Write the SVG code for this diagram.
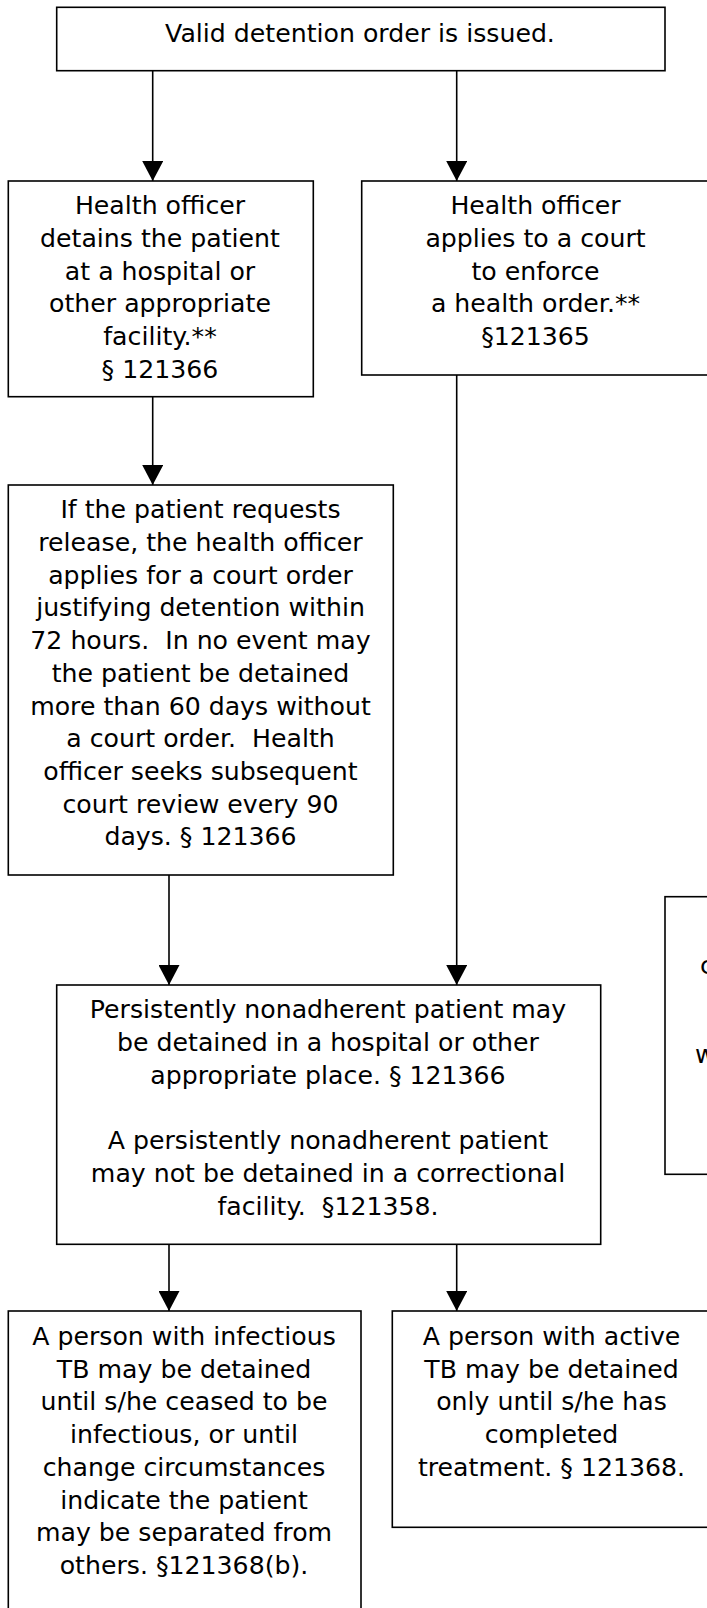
<svg xmlns="http://www.w3.org/2000/svg" width="707" height="1608" viewBox="0 0 707 1608">
<style>
.box{fill:#fff;stroke:#000;stroke-width:1.6}
.t{font-family:"DejaVu Sans",sans-serif;font-size:25.2px;fill:#000;text-anchor:middle}
.ts{font-family:"DejaVu Sans",sans-serif;font-size:25.2px;fill:#000;text-anchor:start}
.c{stroke:#000;stroke-width:1.6;fill:none;marker-end:url(#ah)}
</style>
<defs>
<marker id="ah" markerUnits="userSpaceOnUse" viewBox="0 0 20 21" refX="20" refY="10.5" markerWidth="20" markerHeight="21" orient="auto">
<path d="M0,0 L20,10.5 L0,21 z" fill="#000"/>
</marker>
</defs>
<rect width="707" height="1608" fill="#fff"/>
<g id="connectors">
<line class="c" x1="152.7" y1="70.7" x2="152.7" y2="181"/>
<line class="c" x1="456.7" y1="70.7" x2="456.7" y2="181"/>
<line class="c" x1="152.7" y1="396.7" x2="152.7" y2="485"/>
<line class="c" x1="169" y1="875" x2="169" y2="985"/>
<line class="c" x1="456.7" y1="375" x2="456.7" y2="985"/>
<line class="c" x1="169" y1="1244.3" x2="169" y2="1311"/>
<line class="c" x1="456.7" y1="1244.3" x2="456.7" y2="1311"/>
</g>
<g id="node-top">
<rect class="box" x="56.7" y="7.3" width="608.3" height="63.4"/>
<text class="t" x="360" y="41.7">Valid detention order is issued.</text>
</g>
<g id="node-detain">
<rect class="box" x="8.3" y="181" width="305" height="215.7"/>
<text class="t" x="160" y="214.3">Health officer</text>
<text class="t" x="160" y="247">detains the patient</text>
<text class="t" x="160" y="279.7">at a hospital or</text>
<text class="t" x="160" y="312.4">other appropriate</text>
<text class="t" x="160" y="345.1">facility.**</text>
<text class="t" x="160" y="377.8">§ 121366</text>
</g>
<g id="node-court">
<rect class="box" x="361.7" y="181" width="360" height="194"/>
<text class="t" x="535.5" y="214.3">Health officer</text>
<text class="t" x="535.5" y="247">applies to a court</text>
<text class="t" x="535.5" y="279.7">to enforce</text>
<text class="t" x="535.5" y="312.4">a health order.**</text>
<text class="t" x="535.5" y="345.1">§121365</text>
</g>
<g id="node-release">
<rect class="box" x="8.3" y="485" width="385" height="390"/>
<text class="t" x="200.5" y="518.3">If the patient requests</text>
<text class="t" x="200.5" y="551">release, the health officer</text>
<text class="t" x="200.5" y="583.7">applies for a court order</text>
<text class="t" x="200.5" y="616.4">justifying detention within</text>
<text class="t" x="200.5" y="649.1" xml:space="preserve">72 hours.  In no event may</text>
<text class="t" x="200.5" y="681.8">the patient be detained</text>
<text class="t" x="200.5" y="714.5">more than 60 days without</text>
<text class="t" x="200.5" y="747.2" xml:space="preserve">a court order.  Health</text>
<text class="t" x="200.5" y="779.9">officer seeks subsequent</text>
<text class="t" x="200.5" y="812.6">court review every 90</text>
<text class="t" x="200.5" y="845.3">days. § 121366</text>
</g>
<g id="node-persistent">
<rect class="box" x="56.7" y="985" width="544" height="259.3"/>
<text class="t" x="328" y="1018.3">Persistently nonadherent patient may</text>
<text class="t" x="328" y="1051">be detained in a hospital or other</text>
<text class="t" x="328" y="1083.7">appropriate place. § 121366</text>
<text class="t" x="328" y="1149.1">A persistently nonadherent patient</text>
<text class="t" x="328" y="1181.8">may not be detained in a correctional</text>
<text class="t" x="328" y="1214.5" xml:space="preserve">facility.  §121358.</text>
</g>
<g id="node-cut">
<rect class="box" x="665" y="896.7" width="80" height="277.6"/>
<text class="ts" x="700" y="974">c</text>
<text class="ts" x="695" y="1062.7">w</text>
</g>
<g id="node-infectious">
<rect class="box" x="8.3" y="1311" width="352.7" height="320"/>
<text class="t" x="184" y="1345">A person with infectious</text>
<text class="t" x="184" y="1377.7">TB may be detained</text>
<text class="t" x="184" y="1410.4">until s/he ceased to be</text>
<text class="t" x="184" y="1443.1">infectious, or until</text>
<text class="t" x="184" y="1475.8">change circumstances</text>
<text class="t" x="184" y="1508.5">indicate the patient</text>
<text class="t" x="184" y="1541.2">may be separated from</text>
<text class="t" x="184" y="1573.9">others. §121368(b).</text>
</g>
<g id="node-active">
<rect class="box" x="392.3" y="1311" width="340" height="216.3"/>
<text class="t" x="551.5" y="1345">A person with active</text>
<text class="t" x="551.5" y="1377.7">TB may be detained</text>
<text class="t" x="551.5" y="1410.4">only until s/he has</text>
<text class="t" x="551.5" y="1443.1">completed</text>
<text class="t" x="551.5" y="1475.8">treatment. § 121368.</text>
</g>
</svg>
